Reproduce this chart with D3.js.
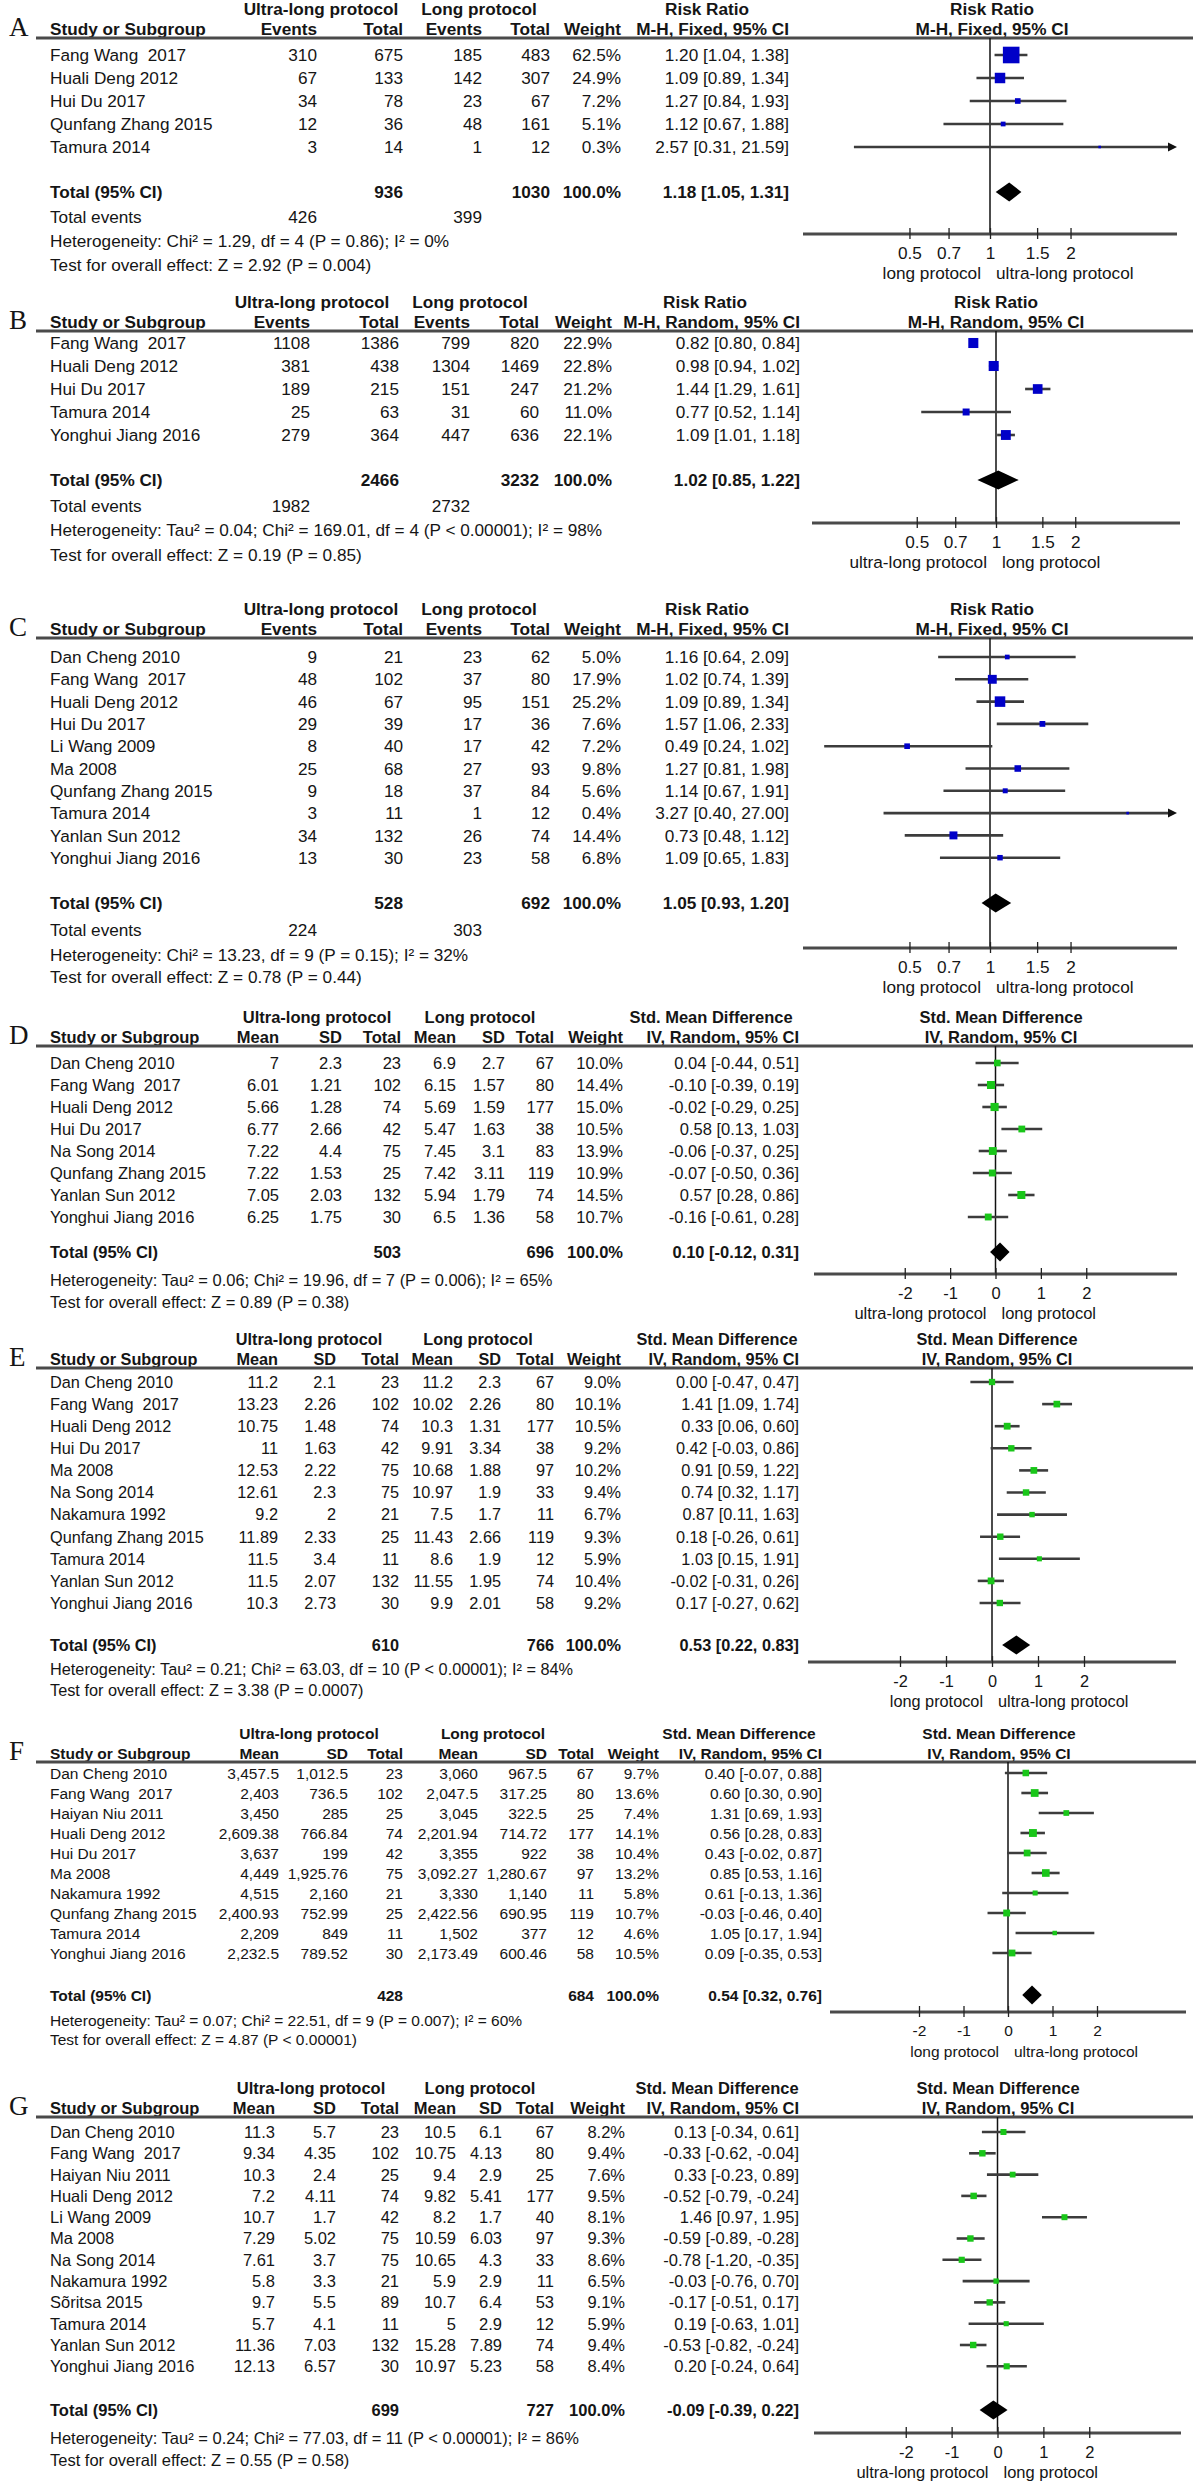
<!DOCTYPE html>
<html><head><meta charset="utf-8">
<script src="https://cdn.jsdelivr.net/npm/d3@7"></script>
<style>
body{margin:0;background:#fff}
text{font-family:"Liberation Sans",Arial,sans-serif;fill:#151515;white-space:pre}
</style>
</head><body><svg id="c" width="1199" height="2481"></svg>
<script>
// ---------- shared ----------
const rrTicks = [0.5, 0.7, 1, 1.5, 2];
const smdTicks = [-2, -1, 0, 1, 2];

// ---------- Panel A (Risk Ratio, M-H Fixed) ----------
const aStudies = ["Fang Wang  2017", "Huali Deng 2012", "Hui Du 2017", "Qunfang Zhang 2015", "Tamura 2014"];
const aEv1 = [310, 67, 34, 12, 3];
const aN1 = [675, 133, 78, 36, 14];
const aEv2 = [185, 142, 23, 48, 1];
const aN2 = [483, 307, 67, 161, 12];
const aWeight = [62.5, 24.9, 7.2, 5.1, 0.3];
const aEst = [1.20, 1.09, 1.27, 1.12, 2.57];
const aLo = [1.04, 0.89, 0.84, 0.67, 0.31];
const aHi = [1.38, 1.34, 1.93, 1.88, 21.59];
const aSummary = [936, 1030, 1.18, 1.05, 1.31];
const aEvents = [426, 399];
const aHet = "Heterogeneity: Chi\u00b2 = 1.29, df = 4 (P = 0.86); I\u00b2 = 0%";
const aTest = "Test for overall effect: Z = 2.92 (P = 0.004)";

// ---------- Panel B (Risk Ratio, M-H Random) ----------
const bStudies = ["Fang Wang  2017", "Huali Deng 2012", "Hui Du 2017", "Tamura 2014", "Yonghui Jiang 2016"];
const bEv1 = [1108, 381, 189, 25, 279];
const bN1 = [1386, 438, 215, 63, 364];
const bEv2 = [799, 1304, 151, 31, 447];
const bN2 = [820, 1469, 247, 60, 636];
const bWeight = [22.9, 22.8, 21.2, 11.0, 22.1];
const bEst = [0.82, 0.98, 1.44, 0.77, 1.09];
const bLo = [0.80, 0.94, 1.29, 0.52, 1.01];
const bHi = [0.84, 1.02, 1.61, 1.14, 1.18];
const bSummary = [2466, 3232, 1.02, 0.85, 1.22];
const bEvents = [1982, 2732];
const bHet = "Heterogeneity: Tau\u00b2 = 0.04; Chi\u00b2 = 169.01, df = 4 (P < 0.00001); I\u00b2 = 98%";
const bTest = "Test for overall effect: Z = 0.19 (P = 0.85)";

// ---------- Panel C (Risk Ratio, M-H Fixed) ----------
const cStudies = ["Dan Cheng 2010", "Fang Wang  2017", "Huali Deng 2012", "Hui Du 2017", "Li Wang 2009", "Ma 2008", "Qunfang Zhang 2015", "Tamura 2014", "Yanlan Sun 2012", "Yonghui Jiang 2016"];
const cEv1 = [9, 48, 46, 29, 8, 25, 9, 3, 34, 13];
const cN1 = [21, 102, 67, 39, 40, 68, 18, 11, 132, 30];
const cEv2 = [23, 37, 95, 17, 17, 27, 37, 1, 26, 23];
const cN2 = [62, 80, 151, 36, 42, 93, 84, 12, 74, 58];
const cWeight = [5.0, 17.9, 25.2, 7.6, 7.2, 9.8, 5.6, 0.4, 14.4, 6.8];
const cEst = [1.16, 1.02, 1.09, 1.57, 0.49, 1.27, 1.14, 3.27, 0.73, 1.09];
const cLo = [0.64, 0.74, 0.89, 1.06, 0.24, 0.81, 0.67, 0.40, 0.48, 0.65];
const cHi = [2.09, 1.39, 1.34, 2.33, 1.02, 1.98, 1.91, 27.00, 1.12, 1.83];
const cSummary = [528, 692, 1.05, 0.93, 1.20];
const cEvents = [224, 303];
const cHet = "Heterogeneity: Chi\u00b2 = 13.23, df = 9 (P = 0.15); I\u00b2 = 32%";
const cTest = "Test for overall effect: Z = 0.78 (P = 0.44)";

// ---------- Panel D (Std. Mean Difference) ----------
const dStudies = ["Dan Cheng 2010", "Fang Wang  2017", "Huali Deng 2012", "Hui Du 2017", "Na Song 2014", "Qunfang Zhang 2015", "Yanlan Sun 2012", "Yonghui Jiang 2016"];
const dMean1 = [7, 6.01, 5.66, 6.77, 7.22, 7.22, 7.05, 6.25];
const dSD1 = [2.3, 1.21, 1.28, 2.66, 4.4, 1.53, 2.03, 1.75];
const dN1 = [23, 102, 74, 42, 75, 25, 132, 30];
const dMean2 = [6.9, 6.15, 5.69, 5.47, 7.45, 7.42, 5.94, 6.5];
const dSD2 = [2.7, 1.57, 1.59, 1.63, 3.1, 3.11, 1.79, 1.36];
const dN2 = [67, 80, 177, 38, 83, 119, 74, 58];
const dWeight = [10.0, 14.4, 15.0, 10.5, 13.9, 10.9, 14.5, 10.7];
const dEst = [0.04, -0.10, -0.02, 0.58, -0.06, -0.07, 0.57, -0.16];
const dLo = [-0.44, -0.39, -0.29, 0.13, -0.37, -0.50, 0.28, -0.61];
const dHi = [0.51, 0.19, 0.25, 1.03, 0.25, 0.36, 0.86, 0.28];
const dSummary = [503, 696, 0.10, -0.12, 0.31];
const dHet = "Heterogeneity: Tau\u00b2 = 0.06; Chi\u00b2 = 19.96, df = 7 (P = 0.006); I\u00b2 = 65%";
const dTest = "Test for overall effect: Z = 0.89 (P = 0.38)";

// ---------- Panel E ----------
const eStudies = ["Dan Cheng 2010", "Fang Wang  2017", "Huali Deng 2012", "Hui Du 2017", "Ma 2008", "Na Song 2014", "Nakamura 1992", "Qunfang Zhang 2015", "Tamura 2014", "Yanlan Sun 2012", "Yonghui Jiang 2016"];
const eMean1 = [11.2, 13.23, 10.75, 11, 12.53, 12.61, 9.2, 11.89, 11.5, 11.5, 10.3];
const eSD1 = [2.1, 2.26, 1.48, 1.63, 2.22, 2.3, 2, 2.33, 3.4, 2.07, 2.73];
const eN1 = [23, 102, 74, 42, 75, 75, 21, 25, 11, 132, 30];
const eMean2 = [11.2, 10.02, 10.3, 9.91, 10.68, 10.97, 7.5, 11.43, 8.6, 11.55, 9.9];
const eSD2 = [2.3, 2.26, 1.31, 3.34, 1.88, 1.9, 1.7, 2.66, 1.9, 1.95, 2.01];
const eN2 = [67, 80, 177, 38, 97, 33, 11, 119, 12, 74, 58];
const eWeight = [9.0, 10.1, 10.5, 9.2, 10.2, 9.4, 6.7, 9.3, 5.9, 10.4, 9.2];
const eEst = [0.00, 1.41, 0.33, 0.42, 0.91, 0.74, 0.87, 0.18, 1.03, -0.02, 0.17];
const eLo = [-0.47, 1.09, 0.06, -0.03, 0.59, 0.32, 0.11, -0.26, 0.15, -0.31, -0.27];
const eHi = [0.47, 1.74, 0.60, 0.86, 1.22, 1.17, 1.63, 0.61, 1.91, 0.26, 0.62];
const eSummary = [610, 766, 0.53, 0.22, 0.83];
const eHet = "Heterogeneity: Tau\u00b2 = 0.21; Chi\u00b2 = 63.03, df = 10 (P < 0.00001); I\u00b2 = 84%";
const eTest = "Test for overall effect: Z = 3.38 (P = 0.0007)";

// ---------- Panel F ----------
const fStudies = ["Dan Cheng 2010", "Fang Wang  2017", "Haiyan Niu 2011", "Huali Deng 2012", "Hui Du 2017", "Ma 2008", "Nakamura 1992", "Qunfang Zhang 2015", "Tamura 2014", "Yonghui Jiang 2016"];
const fMean1 = [3457.5, 2403, 3450, 2609.38, 3637, 4449, 4515, 2400.93, 2209, 2232.5];
const fSD1 = [1012.5, 736.5, 285, 766.84, 199, 1925.76, 2160, 752.99, 849, 789.52];
const fN1 = [23, 102, 25, 74, 42, 75, 21, 25, 11, 30];
const fMean2 = [3060, 2047.5, 3045, 2201.94, 3355, 3092.27, 3330, 2422.56, 1502, 2173.49];
const fSD2 = [967.5, 317.25, 322.5, 714.72, 922, 1280.67, 1140, 690.95, 377, 600.46];
const fN2 = [67, 80, 25, 177, 38, 97, 11, 119, 12, 58];
const fWeight = [9.7, 13.6, 7.4, 14.1, 10.4, 13.2, 5.8, 10.7, 4.6, 10.5];
const fEst = [0.40, 0.60, 1.31, 0.56, 0.43, 0.85, 0.61, -0.03, 1.05, 0.09];
const fLo = [-0.07, 0.30, 0.69, 0.28, -0.02, 0.53, -0.13, -0.46, 0.17, -0.35];
const fHi = [0.88, 0.90, 1.93, 0.83, 0.87, 1.16, 1.36, 0.40, 1.94, 0.53];
const fSummary = [428, 684, 0.54, 0.32, 0.76];
const fHet = "Heterogeneity: Tau\u00b2 = 0.07; Chi\u00b2 = 22.51, df = 9 (P = 0.007); I\u00b2 = 60%";
const fTest = "Test for overall effect: Z = 4.87 (P < 0.00001)";

// ---------- Panel G ----------
const gStudies = ["Dan Cheng 2010", "Fang Wang  2017", "Haiyan Niu 2011", "Huali Deng 2012", "Li Wang 2009", "Ma 2008", "Na Song 2014", "Nakamura 1992", "S\u00f5ritsa 2015", "Tamura 2014", "Yanlan Sun 2012", "Yonghui Jiang 2016"];
const gMean1 = [11.3, 9.34, 10.3, 7.2, 10.7, 7.29, 7.61, 5.8, 9.7, 5.7, 11.36, 12.13];
const gSD1 = [5.7, 4.35, 2.4, 4.11, 1.7, 5.02, 3.7, 3.3, 5.5, 4.1, 7.03, 6.57];
const gN1 = [23, 102, 25, 74, 42, 75, 75, 21, 89, 11, 132, 30];
const gMean2 = [10.5, 10.75, 9.4, 9.82, 8.2, 10.59, 10.65, 5.9, 10.7, 5, 15.28, 10.97];
const gSD2 = [6.1, 4.13, 2.9, 5.41, 1.7, 6.03, 4.3, 2.9, 6.4, 2.9, 7.89, 5.23];
const gN2 = [67, 80, 25, 177, 40, 97, 33, 11, 53, 12, 74, 58];
const gWeight = [8.2, 9.4, 7.6, 9.5, 8.1, 9.3, 8.6, 6.5, 9.1, 5.9, 9.4, 8.4];
const gEst = [0.13, -0.33, 0.33, -0.52, 1.46, -0.59, -0.78, -0.03, -0.17, 0.19, -0.53, 0.20];
const gLo = [-0.34, -0.62, -0.23, -0.79, 0.97, -0.89, -1.20, -0.76, -0.51, -0.63, -0.82, -0.24];
const gHi = [0.61, -0.04, 0.89, -0.24, 1.95, -0.28, -0.35, 0.70, 0.17, 1.01, -0.24, 0.64];
const gSummary = [699, 727, -0.09, -0.39, 0.22];
const gHet = "Heterogeneity: Tau\u00b2 = 0.24; Chi\u00b2 = 77.03, df = 11 (P < 0.00001); I\u00b2 = 86%";
const gTest = "Test for overall effect: Z = 0.55 (P = 0.58)";

// ---------- drawing ----------
const svg = d3.select("#c");
svg.append("rect").attr("width", 1199).attr("height", 2481).attr("fill", "#fff");
const f2 = v => v.toFixed(2);
const ciStr = (e, l, h) => `${f2(e)} [${f2(l)}, ${f2(h)}]`;
const numFmt = d3.format(",");

function rrRows(st, e1, n1, e2, n2, w, est, lo, hi) {
  return st.map((s, i) => ({name: s, cells: [String(e1[i]), String(n1[i]), String(e2[i]), String(n2[i]), w[i].toFixed(1) + "%", ciStr(est[i], lo[i], hi[i])], w: w[i], est: est[i], lo: lo[i], hi: hi[i]}));
}
function smdRows(st, m1, s1, n1, m2, s2, n2, w, est, lo, hi) {
  return st.map((s, i) => ({name: s, cells: [numFmt(m1[i]), numFmt(s1[i]), String(n1[i]), numFmt(m2[i]), numFmt(s2[i]), String(n2[i]), w[i].toFixed(1) + "%", ciStr(est[i], lo[i], hi[i])], w: w[i], est: est[i], lo: lo[i], hi: hi[i]}));
}

function drawPanel(p) {
  const g = svg.append("g");
  const fs = p.fs;
  const isRR = p.type === "RR";
  const x = isRR ? d3.scaleLog().domain([0.2, 5]).range(p.xr) : d3.scaleLinear().domain([-4, 4]).range(p.xr);
  const ref = isRR ? 1 : 0;
  const bl = y => y + fs * 0.36;
  const T = (tx, xx, yy, anchor, bold, size) => g.append("text").attr("x", xx).attr("y", yy)
      .attr("text-anchor", anchor || "start").attr("font-size", size || fs)
      .attr("font-weight", bold ? "bold" : "normal").text(tx);

  // panel letter
  g.append("text").attr("x", 9).attr("y", p.line - 2).attr("font-size", 27)
    .style("font-family", "'Liberation Serif','Times New Roman',serif").text(p.letter);

  // header line 1
  const h1 = p.line - 23;
  T("Ultra-long protocol", p.hU, h1, "middle", true);
  T("Long protocol", p.hL, h1, "middle", true);
  T(p.effName, p.hE, h1, "middle", true);
  T(p.effName, p.pc, h1, "middle", true);
  // header line 2
  const h2 = p.line - 3;
  T("Study or Subgroup", 50, h2, "start", true);
  p.colHeads.forEach((c, i) => T(c, p.cols[i], h2, "end", true));
  T(p.ciHead, p.cols[p.cols.length - 1], h2, "end", true);
  T(p.ciHead, p.pc, h2, "middle", true);
  g.append("line").attr("x1", 36).attr("x2", p.lineEnd).attr("y1", p.line).attr("y2", p.line)
    .attr("stroke", "#4a4a4a").attr("stroke-width", 3);

  // zero / one line
  g.append("line").attr("x1", x(ref)).attr("x2", x(ref)).attr("y1", p.line).attr("y2", p.axis)
    .attr("stroke", "#111").attr("stroke-width", 1.5);

  // study rows
  p.rows.forEach((r, i) => {
    const y = p.row0 + i * p.step;
    T(r.name, 50, bl(y), "start", false);
    r.cells.forEach((c, j) => T(c, p.cols[j], bl(y), "end", false));
    const x1 = x(Math.max(r.lo, x.domain()[0]));
    const over = r.hi > x.domain()[1];
    const x2 = over ? p.xr[1] - 6 : x(r.hi);
    g.append("line").attr("x1", x1).attr("x2", x2).attr("y1", y).attr("y2", y)
      .attr("stroke", "#3c3c3c").attr("stroke-width", 2.6);
    if (over) {
      g.append("path").attr("d", `M${p.xr[1]},${y} L${p.xr[1] - 9},${y - 4.5} L${p.xr[1] - 9},${y + 4.5} Z`).attr("fill", "#111");
    }
    const s = Math.max(2.6, 2.1 * Math.sqrt(r.w));
    g.append("rect").attr("x", x(r.est) - s / 2).attr("y", y - s / 2).attr("width", s).attr("height", s)
      .attr("fill", isRR ? "#0000c8" : "#19c619");
  });

  // total row
  const ty = p.total;
  const sm = p.summary;
  T("Total (95% CI)", 50, bl(ty), "start", true);
  T(String(sm[0]), p.cols[p.totCols[0]], bl(ty), "end", true);
  T(String(sm[1]), p.cols[p.totCols[1]], bl(ty), "end", true);
  T("100.0%", p.cols[p.cols.length - 2], bl(ty), "end", true);
  T(ciStr(sm[2], sm[3], sm[4]), p.cols[p.cols.length - 1], bl(ty), "end", true);
  const dh = 9.5;
  g.append("path").attr("d", `M${x(sm[3])},${ty} L${x(sm[2])},${ty - dh} L${x(sm[4])},${ty} L${x(sm[2])},${ty + dh} Z`)
    .attr("fill", "#000");

  if (p.events) {
    T("Total events", 50, bl(p.eventsY), "start", false);
    T(String(p.events[0]), p.cols[0], bl(p.eventsY), "end", false);
    T(String(p.events[1]), p.cols[2], bl(p.eventsY), "end", false);
  }
  T(p.het, 50, bl(p.hetY), "start", false);
  T(p.test, 50, bl(p.testY), "start", false);

  // axis
  const ax = d3.axisBottom(x).tickValues(isRR ? rrTicks : smdTicks).tickSizeOuter(0).tickSize(5)
    .tickFormat(d => String(d));
  const ag = g.append("g").attr("transform", `translate(0,${p.axis})`).call(ax);
  ag.select(".domain").attr("stroke", "#4a4a4a").attr("stroke-width", 3).attr("d", `M${p.xr[0]},0H${p.xr[1]}`);
  ag.selectAll(".tick line").attr("y1", -6).attr("y2", 5).attr("stroke", "#222").attr("stroke-width", 1.3);
  ag.selectAll(".tick text").attr("y", 13).attr("dy", "0.71em").attr("font-size", fs)
    .attr("fill", "#151515").style("font-family", "'Liberation Sans',Arial,sans-serif");
  T(p.sideL, x(ref) - 9, p.axis + 45, "end", false);
  T(p.sideR, x(ref) + 6, p.axis + 45, "start", false);
}

const rrHeads = ["Events", "Total", "Events", "Total", "Weight"];
const smdHeads = ["Mean", "SD", "Total", "Mean", "SD", "Total", "Weight"];

drawPanel({letter: "A", type: "RR", fs: 17.2, line: 38, row0: 55, step: 23, total: 192, eventsY: 217, hetY: 241, testY: 265, axis: 234,
  xr: [803, 1177], cols: [317, 403, 482, 550, 621, 789], colHeads: rrHeads, totCols: [1, 3], ciHead: "M-H, Fixed, 95% CI",
  effName: "Risk Ratio", hU: 321, hL: 479, hE: 707, pc: 992, lineEnd: 1193,
  rows: rrRows(aStudies, aEv1, aN1, aEv2, aN2, aWeight, aEst, aLo, aHi), summary: aSummary, events: aEvents,
  het: aHet, test: aTest, sideL: "long protocol", sideR: "ultra-long protocol"});

drawPanel({letter: "B", type: "RR", fs: 17.2, line: 331, row0: 343, step: 23, total: 480, eventsY: 506, hetY: 530, testY: 555, axis: 523,
  xr: [812, 1180], cols: [310, 399, 470, 539, 612, 800], colHeads: rrHeads, totCols: [1, 3], ciHead: "M-H, Random, 95% CI",
  effName: "Risk Ratio", hU: 312, hL: 470, hE: 705, pc: 996, lineEnd: 1193,
  rows: rrRows(bStudies, bEv1, bN1, bEv2, bN2, bWeight, bEst, bLo, bHi), summary: bSummary, events: bEvents,
  het: bHet, test: bTest, sideL: "ultra-long protocol", sideR: "long protocol"});

drawPanel({letter: "C", type: "RR", fs: 17.2, line: 638, row0: 657, step: 22.3, total: 903, eventsY: 930, hetY: 955, testY: 977, axis: 948,
  xr: [803, 1177], cols: [317, 403, 482, 550, 621, 789], colHeads: rrHeads, totCols: [1, 3], ciHead: "M-H, Fixed, 95% CI",
  effName: "Risk Ratio", hU: 321, hL: 479, hE: 707, pc: 992, lineEnd: 1193,
  rows: rrRows(cStudies, cEv1, cN1, cEv2, cN2, cWeight, cEst, cLo, cHi), summary: cSummary, events: cEvents,
  het: cHet, test: cTest, sideL: "long protocol", sideR: "ultra-long protocol"});

drawPanel({letter: "D", type: "SMD", fs: 16.5, line: 1046, row0: 1063, step: 22, total: 1252, hetY: 1280, testY: 1302, axis: 1274,
  xr: [814, 1177], cols: [279, 342, 401, 456, 505, 554, 623, 799], colHeads: smdHeads, totCols: [2, 5], ciHead: "IV, Random, 95% CI",
  effName: "Std. Mean Difference", hU: 317, hL: 480, hE: 711, pc: 1001, lineEnd: 1193,
  rows: smdRows(dStudies, dMean1, dSD1, dN1, dMean2, dSD2, dN2, dWeight, dEst, dLo, dHi), summary: dSummary,
  het: dHet, test: dTest, sideL: "ultra-long protocol", sideR: "long protocol"});

drawPanel({letter: "E", type: "SMD", fs: 16.3, line: 1368, row0: 1382, step: 22.1, total: 1645, hetY: 1669, testY: 1690, axis: 1662,
  xr: [808, 1176], cols: [278, 336, 399, 453, 501, 554, 621, 799], colHeads: smdHeads, totCols: [2, 5], ciHead: "IV, Random, 95% CI",
  effName: "Std. Mean Difference", hU: 309, hL: 478, hE: 717, pc: 997, lineEnd: 1193,
  rows: smdRows(eStudies, eMean1, eSD1, eN1, eMean2, eSD2, eN2, eWeight, eEst, eLo, eHi), summary: eSummary,
  het: eHet, test: eTest, sideL: "long protocol", sideR: "ultra-long protocol"});

drawPanel({letter: "F", type: "SMD", fs: 15.5, line: 1762, row0: 1773, step: 20, total: 1995, hetY: 2020, testY: 2039, axis: 2012,
  xr: [830, 1186], cols: [279, 348, 403, 478, 547, 594, 659, 822], colHeads: smdHeads, totCols: [2, 5], ciHead: "IV, Random, 95% CI",
  effName: "Std. Mean Difference", hU: 309, hL: 493, hE: 739, pc: 999, lineEnd: 1196,
  rows: smdRows(fStudies, fMean1, fSD1, fN1, fMean2, fSD2, fN2, fWeight, fEst, fLo, fHi), summary: fSummary,
  het: fHet, test: fTest, sideL: "long protocol", sideR: "ultra-long protocol"});

drawPanel({letter: "G", type: "SMD", fs: 16.5, line: 2117, row0: 2132, step: 21.3, total: 2410, hetY: 2438, testY: 2460, axis: 2433,
  xr: [814, 1181], cols: [275, 336, 399, 456, 502, 554, 625, 799], colHeads: smdHeads, totCols: [2, 5], ciHead: "IV, Random, 95% CI",
  effName: "Std. Mean Difference", hU: 311, hL: 480, hE: 717, pc: 998, lineEnd: 1193,
  rows: smdRows(gStudies, gMean1, gSD1, gN1, gMean2, gSD2, gN2, gWeight, gEst, gLo, gHi), summary: gSummary,
  het: gHet, test: gTest, sideL: "ultra-long protocol", sideR: "long protocol"});
</script></body></html>
